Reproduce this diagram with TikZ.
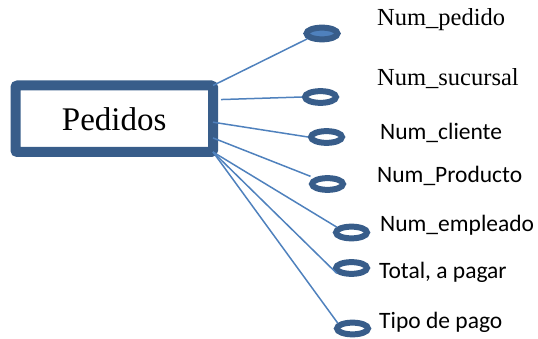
\documentclass[tikz,border=0pt]{standalone}
\usepackage{fontspec}
\setmainfont{Liberation Serif}
\newfontfamily\calibri{Carlito}
\usetikzlibrary{shapes.geometric}
\definecolor{erblue}{HTML}{4F81BD}
\definecolor{erdark}{HTML}{385D8A}

\begin{document}
\begin{tikzpicture}[x=1pt,y=-1pt,
ent/.style={draw=erdark,line width=10pt,rounded corners=2pt,inner sep=0pt,outer sep=0pt,
minimum width=197.5pt,minimum height=66.5pt,font=\fontsize{33}{38}\selectfont},
attr/.style={ellipse,draw=erdark,line width=6pt,inner sep=0pt,
minimum width=31pt,minimum height=11.7pt},
key/.style={attr,fill=erblue},
lbl/.style={anchor=base west,inner sep=0pt,font=\fontsize{24.5}{28}\selectfont},
lblc/.style={anchor=base west,inner sep=0pt,font=\calibri\fontsize{23.5}{28}\selectfont},
link/.style={draw=erblue,line width=1.5pt}
]
\useasboundingbox (0,0) rectangle (538,339);

\node[ent] (pedidos) at (114.25,118.75) {Pedidos};

\node[key]  (e1) at (322,33.5)  {};
\node[attr] (e2) at (320.5,97)  {};
\node[attr] (e3) at (326.5,137) {};
\node[attr] (e4) at (327.5,184) {};
\node[attr] (e5) at (351.5,232.5) {};
\node[attr] (e6) at (351.5,268) {};
\node[attr] (e7) at (352.5,328.5) {};

\node[lbl]  (l1) at (377,26)  {Num\_pedido};
\node[lbl]  (l2) at (377,86)  {Num\_sucursal};
\node[lblc] (l3) at (380,140) {Num\_cliente};
\node[lblc] (l4) at (377,183) {Num\_Producto};
\node[lblc] (l5) at (380,231) {Num\_empleado};
\node[lblc] (l6) at (379,278) {Total, a pagar};
\node[lblc] (l7) at (379,328) {Tipo de pago};

\draw[link] (pedidos.north east) -- (e1.200);
\draw[link] ([xshift=8pt]pedidos.11) -- (e2.west);
\draw[link] (pedidos.-2.5) -- (e3.west);
\draw[link,shorten >=4pt] (pedidos.-11.6) -- (e4.155);
\foreach \e/\a in {e5/160,e6/200,e7/160}
  \draw[link] (pedidos.south east) -- (\e.\a);
\end{tikzpicture}
\end{document}
